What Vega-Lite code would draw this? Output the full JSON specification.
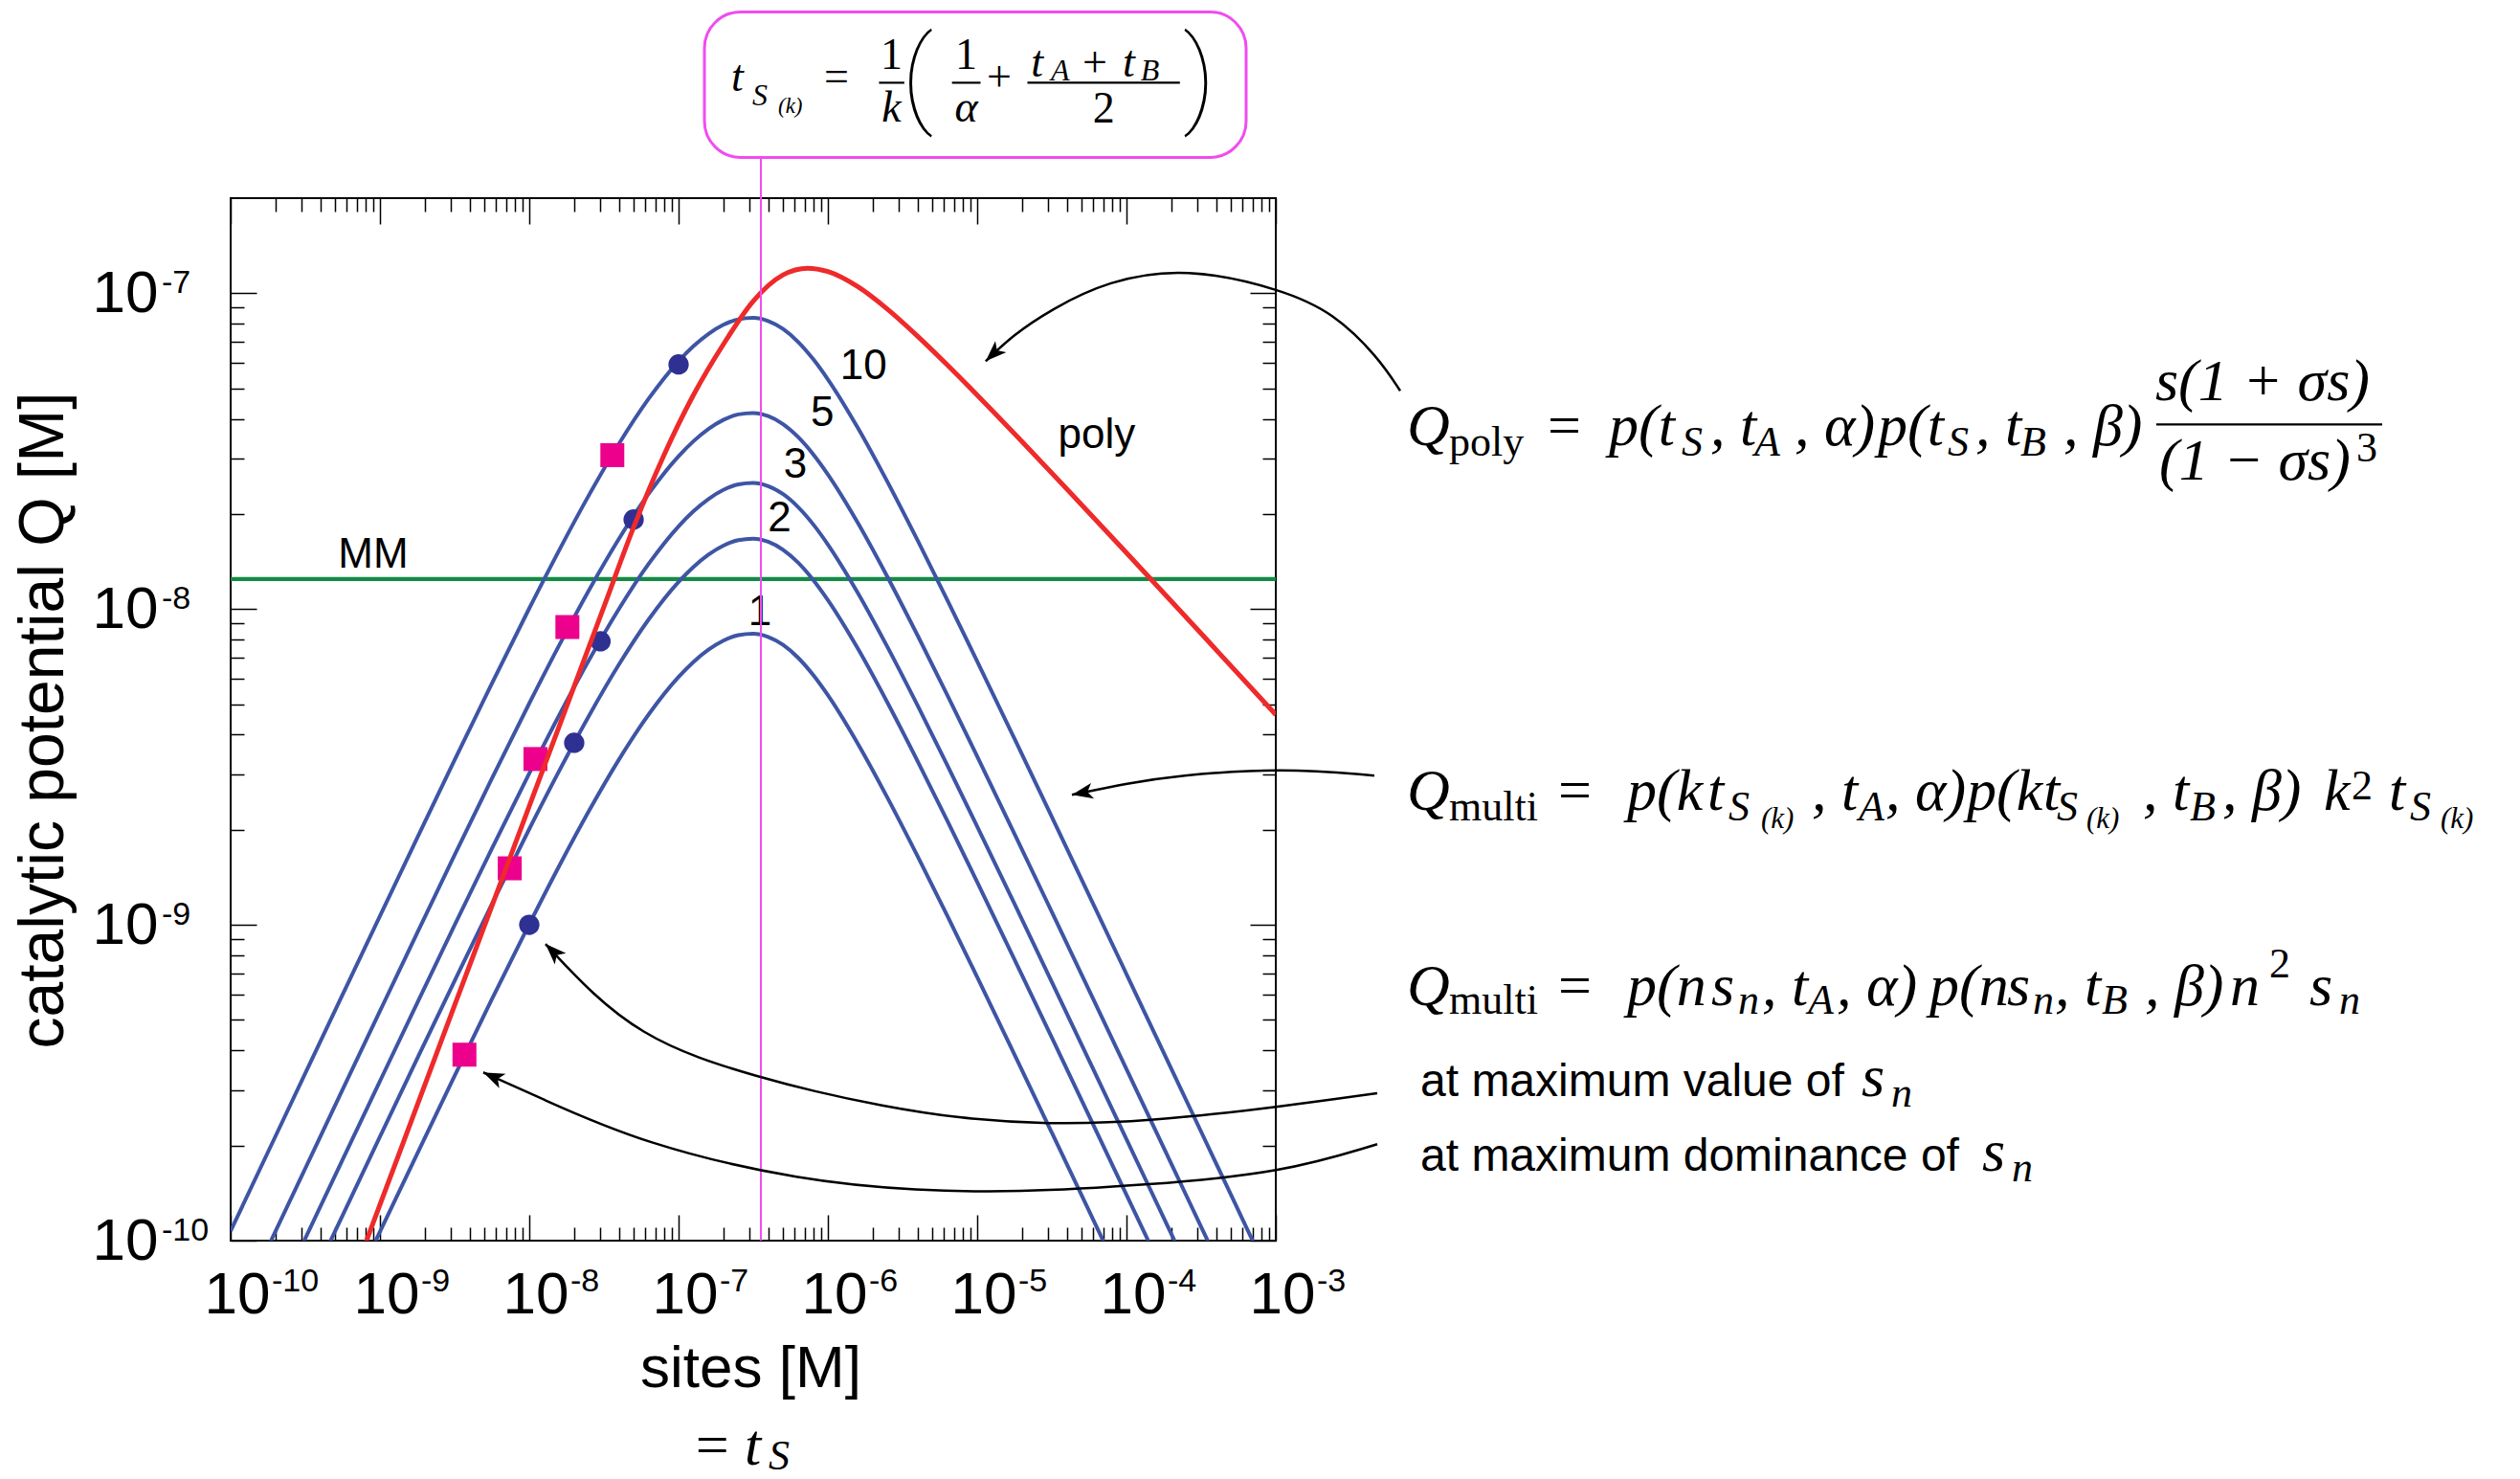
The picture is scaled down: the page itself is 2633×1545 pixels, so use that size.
{
"$schema":"https://vega.github.io/schema/vega-lite/v6.json",
"width":1092,"height":1089,
"autosize":{"type":"none"},
"padding":{"left":241,"top":207,"right":1300,"bottom":249},
"background":"white",
"config":{"view":{"stroke":"black","strokeWidth":2},"axis":{"grid":false}},
"resolve":{"axis":{"x":"independent","y":"independent"}},
"layer":[
{"data":{"values":[{"Q":1.245e-8}]},
 "mark":{"type":"rule","color":"#138B45","strokeWidth":4.3,"clip":true},
 "encoding":{"y":{"field":"Q","type":"quantitative","scale":{"type":"log","domain":[1e-10,2e-7],"nice":false},"axis":null}}},
{"data":{"values":[
{"k":1,"s":1e-10,"Q":1.073e-11},{"k":1,"s":1.778e-10,"Q":1.907e-11},{"k":1,"s":3.162e-10,"Q":3.389e-11},{"k":1,"s":5.623e-10,"Q":6.016e-11},{"k":1,"s":1e-9,"Q":1.067e-10},{"k":1,"s":1.778e-9,"Q":1.887e-10},{"k":1,"s":3.162e-9,"Q":3.325e-10},{"k":1,"s":5.623e-9,"Q":5.818e-10},{"k":1,"s":1e-8,"Q":1.005e-9},{"k":1,"s":1.585e-8,"Q":1.535e-9},{"k":1,"s":2.512e-8,"Q":2.296e-9},{"k":1,"s":3.981e-8,"Q":3.334e-9},{"k":1,"s":6.31e-8,"Q":4.638e-9},{"k":1,"s":1e-7,"Q":6.093e-9},{"k":1,"s":1.259e-7,"Q":6.8e-9},{"k":1,"s":1.585e-7,"Q":7.434e-9},{"k":1,"s":1.995e-7,"Q":7.942e-9},{"k":1,"s":2.512e-7,"Q":8.266e-9},{"k":1,"s":3.162e-7,"Q":8.353e-9},{"k":1,"s":3.981e-7,"Q":8.164e-9},{"k":1,"s":5.012e-7,"Q":7.702e-9},{"k":1,"s":6.31e-7,"Q":7.017e-9},{"k":1,"s":7.943e-7,"Q":6.197e-9},{"k":1,"s":1e-6,"Q":5.337e-9},{"k":1,"s":1.585e-6,"Q":3.752e-9},{"k":1,"s":2.512e-6,"Q":2.522e-9},{"k":1,"s":3.981e-6,"Q":1.653e-9},{"k":1,"s":6.31e-6,"Q":1.068e-9},{"k":1,"s":1e-5,"Q":6.833e-10},{"k":1,"s":1.778e-5,"Q":3.884e-10},{"k":1,"s":3.162e-5,"Q":2.197e-10},{"k":1,"s":5.623e-5,"Q":1.24e-10},{"k":1,"s":1e-4,"Q":6.983e-11},{"k":1,"s":1.778e-4,"Q":3.931e-11},{"k":1,"s":3.162e-4,"Q":2.212e-11},{"k":1,"s":5.623e-4,"Q":1.244e-11},{"k":1,"s":1e-3,"Q":6.998e-12},
{"k":2,"s":1e-10,"Q":2.146e-11},{"k":2,"s":1.778e-10,"Q":3.814e-11},{"k":2,"s":3.162e-10,"Q":6.777e-11},{"k":2,"s":5.623e-10,"Q":1.203e-10},{"k":2,"s":1e-9,"Q":2.133e-10},{"k":2,"s":1.778e-9,"Q":3.774e-10},{"k":2,"s":3.162e-9,"Q":6.65e-10},{"k":2,"s":5.623e-9,"Q":1.164e-9},{"k":2,"s":1e-8,"Q":2.011e-9},{"k":2,"s":1.585e-8,"Q":3.07e-9},{"k":2,"s":2.512e-8,"Q":4.592e-9},{"k":2,"s":3.981e-8,"Q":6.667e-9},{"k":2,"s":6.31e-8,"Q":9.276e-9},{"k":2,"s":1e-7,"Q":1.219e-8},{"k":2,"s":1.259e-7,"Q":1.36e-8},{"k":2,"s":1.585e-7,"Q":1.487e-8},{"k":2,"s":1.995e-7,"Q":1.588e-8},{"k":2,"s":2.512e-7,"Q":1.653e-8},{"k":2,"s":3.162e-7,"Q":1.671e-8},{"k":2,"s":3.981e-7,"Q":1.633e-8},{"k":2,"s":5.012e-7,"Q":1.54e-8},{"k":2,"s":6.31e-7,"Q":1.403e-8},{"k":2,"s":7.943e-7,"Q":1.239e-8},{"k":2,"s":1e-6,"Q":1.067e-8},{"k":2,"s":1.585e-6,"Q":7.504e-9},{"k":2,"s":2.512e-6,"Q":5.044e-9},{"k":2,"s":3.981e-6,"Q":3.306e-9},{"k":2,"s":6.31e-6,"Q":2.135e-9},{"k":2,"s":1e-5,"Q":1.367e-9},{"k":2,"s":1.778e-5,"Q":7.767e-10},{"k":2,"s":3.162e-5,"Q":4.394e-10},{"k":2,"s":5.623e-5,"Q":2.479e-10},{"k":2,"s":1e-4,"Q":1.397e-10},{"k":2,"s":1.778e-4,"Q":7.862e-11},{"k":2,"s":3.162e-4,"Q":4.424e-11},{"k":2,"s":5.623e-4,"Q":2.489e-11},{"k":2,"s":1e-3,"Q":1.4e-11},
{"k":3,"s":1e-10,"Q":3.219e-11},{"k":3,"s":1.778e-10,"Q":5.722e-11},{"k":3,"s":3.162e-10,"Q":1.017e-10},{"k":3,"s":5.623e-10,"Q":1.805e-10},{"k":3,"s":1e-9,"Q":3.2e-10},{"k":3,"s":1.778e-9,"Q":5.661e-10},{"k":3,"s":3.162e-9,"Q":9.976e-10},{"k":3,"s":5.623e-9,"Q":1.745e-9},{"k":3,"s":1e-8,"Q":3.016e-9},{"k":3,"s":1.585e-8,"Q":4.605e-9},{"k":3,"s":2.512e-8,"Q":6.889e-9},{"k":3,"s":3.981e-8,"Q":1e-8},{"k":3,"s":6.31e-8,"Q":1.391e-8},{"k":3,"s":1e-7,"Q":1.828e-8},{"k":3,"s":1.259e-7,"Q":2.04e-8},{"k":3,"s":1.585e-7,"Q":2.23e-8},{"k":3,"s":1.995e-7,"Q":2.383e-8},{"k":3,"s":2.512e-7,"Q":2.48e-8},{"k":3,"s":3.162e-7,"Q":2.506e-8},{"k":3,"s":3.981e-7,"Q":2.449e-8},{"k":3,"s":5.012e-7,"Q":2.311e-8},{"k":3,"s":6.31e-7,"Q":2.105e-8},{"k":3,"s":7.943e-7,"Q":1.859e-8},{"k":3,"s":1e-6,"Q":1.601e-8},{"k":3,"s":1.585e-6,"Q":1.126e-8},{"k":3,"s":2.512e-6,"Q":7.566e-9},{"k":3,"s":3.981e-6,"Q":4.959e-9},{"k":3,"s":6.31e-6,"Q":3.203e-9},{"k":3,"s":1e-5,"Q":2.05e-9},{"k":3,"s":1.778e-5,"Q":1.165e-9},{"k":3,"s":3.162e-5,"Q":6.59e-10},{"k":3,"s":5.623e-5,"Q":3.719e-10},{"k":3,"s":1e-4,"Q":2.095e-10},{"k":3,"s":1.778e-4,"Q":1.179e-10},{"k":3,"s":3.162e-4,"Q":6.636e-11},{"k":3,"s":5.623e-4,"Q":3.733e-11},{"k":3,"s":1e-3,"Q":2.1e-11},
{"k":5,"s":1e-10,"Q":5.365e-11},{"k":5,"s":1.778e-10,"Q":9.536e-11},{"k":5,"s":3.162e-10,"Q":1.694e-10},{"k":5,"s":5.623e-10,"Q":3.008e-10},{"k":5,"s":1e-9,"Q":5.333e-10},{"k":5,"s":1.778e-9,"Q":9.436e-10},{"k":5,"s":3.162e-9,"Q":1.663e-9},{"k":5,"s":5.623e-9,"Q":2.909e-9},{"k":5,"s":1e-8,"Q":5.027e-9},{"k":5,"s":1.585e-8,"Q":7.674e-9},{"k":5,"s":2.512e-8,"Q":1.148e-8},{"k":5,"s":3.981e-8,"Q":1.667e-8},{"k":5,"s":6.31e-8,"Q":2.319e-8},{"k":5,"s":1e-7,"Q":3.046e-8},{"k":5,"s":1.259e-7,"Q":3.4e-8},{"k":5,"s":1.585e-7,"Q":3.717e-8},{"k":5,"s":1.995e-7,"Q":3.971e-8},{"k":5,"s":2.512e-7,"Q":4.133e-8},{"k":5,"s":3.162e-7,"Q":4.176e-8},{"k":5,"s":3.981e-7,"Q":4.082e-8},{"k":5,"s":5.012e-7,"Q":3.851e-8},{"k":5,"s":6.31e-7,"Q":3.508e-8},{"k":5,"s":7.943e-7,"Q":3.099e-8},{"k":5,"s":1e-6,"Q":2.669e-8},{"k":5,"s":1.585e-6,"Q":1.876e-8},{"k":5,"s":2.512e-6,"Q":1.261e-8},{"k":5,"s":3.981e-6,"Q":8.265e-9},{"k":5,"s":6.31e-6,"Q":5.338e-9},{"k":5,"s":1e-5,"Q":3.417e-9},{"k":5,"s":1.778e-5,"Q":1.942e-9},{"k":5,"s":3.162e-5,"Q":1.098e-9},{"k":5,"s":5.623e-5,"Q":6.198e-10},{"k":5,"s":1e-4,"Q":3.492e-10},{"k":5,"s":1.778e-4,"Q":1.966e-10},{"k":5,"s":3.162e-4,"Q":1.106e-10},{"k":5,"s":5.623e-4,"Q":6.222e-11},{"k":5,"s":1e-3,"Q":3.499e-11},
{"k":10,"s":1e-10,"Q":1.073e-10},{"k":10,"s":1.778e-10,"Q":1.907e-10},{"k":10,"s":3.162e-10,"Q":3.389e-10},{"k":10,"s":5.623e-10,"Q":6.016e-10},{"k":10,"s":1e-9,"Q":1.067e-9},{"k":10,"s":1.778e-9,"Q":1.887e-9},{"k":10,"s":3.162e-9,"Q":3.325e-9},{"k":10,"s":5.623e-9,"Q":5.818e-9},{"k":10,"s":1e-8,"Q":1.005e-8},{"k":10,"s":1.585e-8,"Q":1.535e-8},{"k":10,"s":2.512e-8,"Q":2.296e-8},{"k":10,"s":3.981e-8,"Q":3.334e-8},{"k":10,"s":6.31e-8,"Q":4.638e-8},{"k":10,"s":1e-7,"Q":6.093e-8},{"k":10,"s":1.259e-7,"Q":6.8e-8},{"k":10,"s":1.585e-7,"Q":7.434e-8},{"k":10,"s":1.995e-7,"Q":7.942e-8},{"k":10,"s":2.512e-7,"Q":8.266e-8},{"k":10,"s":3.162e-7,"Q":8.353e-8},{"k":10,"s":3.981e-7,"Q":8.164e-8},{"k":10,"s":5.012e-7,"Q":7.702e-8},{"k":10,"s":6.31e-7,"Q":7.017e-8},{"k":10,"s":7.943e-7,"Q":6.197e-8},{"k":10,"s":1e-6,"Q":5.337e-8},{"k":10,"s":1.585e-6,"Q":3.752e-8},{"k":10,"s":2.512e-6,"Q":2.522e-8},{"k":10,"s":3.981e-6,"Q":1.653e-8},{"k":10,"s":6.31e-6,"Q":1.068e-8},{"k":10,"s":1e-5,"Q":6.833e-9},{"k":10,"s":1.778e-5,"Q":3.884e-9},{"k":10,"s":3.162e-5,"Q":2.197e-9},{"k":10,"s":5.623e-5,"Q":1.24e-9},{"k":10,"s":1e-4,"Q":6.983e-10},{"k":10,"s":1.778e-4,"Q":3.931e-10},{"k":10,"s":3.162e-4,"Q":2.212e-10},{"k":10,"s":5.623e-4,"Q":1.244e-10},{"k":10,"s":1e-3,"Q":6.998e-11}
]},
 "mark":{"type":"line","color":"#3E55A5","strokeWidth":4,"interpolate":"monotone","clip":true},
 "encoding":{
  "x":{"field":"s","type":"quantitative","scale":{"type":"log","domain":[1e-10,0.001],"nice":false},
   "axis":{"orient":"bottom","values":[1e-10,1e-9,1e-8,1e-7,1e-6,1e-5,1e-4,1e-3],"tickSize":-27,"tickWidth":1.5,"tickColor":"black","domain":false,"grid":false,
    "labelExpr":"'10'",
    "labelFont":"Liberation Sans","labelFontSize":62,"labelAlign":"left","labelBaseline":"top","labelOffset":-28,"labelPadding":53,"labelFlush":false,"labelOverlap":false,"labelBound":false,"labelColor":"black",
    "title":"sites [M]","titleFont":"Liberation Sans","titleFontSize":62,"titleFontWeight":"normal","titleColor":"black","titleBaseline":"alphabetic","titleAlign":"center","titleAngle":0,"titleX":543,"titleY":152}},
  "y":{"field":"Q","type":"quantitative","scale":{"type":"log","domain":[1e-10,2e-7],"nice":false},
   "axis":{"orient":"left","values":[1e-10,1e-9,1e-8,1e-7],"tickSize":-27,"tickWidth":1.5,"tickColor":"black","domain":false,"grid":false,
    "labelExpr":"'10'",
    "labelFont":"Liberation Sans","labelFontSize":62,"labelAlign":"left","labelBaseline":"middle","labelPadding":172,"labelFlush":false,"labelOverlap":false,"labelBound":false,"labelColor":"black",
    "title":"catalytic potential Q [M]","titleFont":"Liberation Sans","titleFontSize":66,"titleFontWeight":"normal","titleColor":"black","titleBaseline":"alphabetic","titleAlign":"center","titleAngle":-90,"titleX":-176,"titleY":545}},
  "detail":{"field":"k","type":"nominal"}}},
{"data":{"values":[{"s":1e-10,"Q":1e-10,"e":"-10"},{"s":1e-9,"Q":1e-10,"e":"-9"},{"s":1e-8,"Q":1e-10,"e":"-8"},{"s":1e-7,"Q":1e-10,"e":"-7"},{"s":1e-6,"Q":1e-10,"e":"-6"},{"s":1e-5,"Q":1e-10,"e":"-5"},{"s":1e-4,"Q":1e-10,"e":"-4"},{"s":1e-3,"Q":1e-10,"e":"-3"}]},
 "mark":{"type":"text","font":"Liberation Sans","fontSize":34,"align":"left","baseline":"alphabetic","dx":43,"dy":53,"color":"black","clip":false},
 "encoding":{"x":{"field":"s","type":"quantitative","scale":{"type":"log","domain":[1e-10,0.001],"nice":false},"axis":null},"y":{"field":"Q","type":"quantitative","scale":{"type":"log","domain":[1e-10,2e-7],"nice":false},"axis":null},"text":{"field":"e"}}},
{"data":{"values":[{"s":1e-10,"Q":1e-10,"e":"-10"},{"s":1e-10,"Q":1e-9,"e":"-9"},{"s":1e-10,"Q":1e-8,"e":"-8"},{"s":1e-10,"Q":1e-7,"e":"-7"}]},
 "mark":{"type":"text","font":"Liberation Sans","fontSize":34,"align":"left","baseline":"alphabetic","dx":-72,"dy":0,"color":"black","clip":false},
 "encoding":{"x":{"field":"s","type":"quantitative","scale":{"type":"log","domain":[1e-10,0.001],"nice":false},"axis":null},"y":{"field":"Q","type":"quantitative","scale":{"type":"log","domain":[1e-10,2e-7],"nice":false},"axis":null},"text":{"field":"e"}}},
{"data":{"values":[{"s":1e-7,"Q":5.95e-8},{"s":5e-8,"Q":1.92e-8},{"s":3e-8,"Q":7.9e-9},{"s":2e-8,"Q":3.77e-9},{"s":1e-8,"Q":1e-9}]},
 "mark":{"type":"point","shape":"circle","filled":true,"size":452,"color":"#2E3192","opacity":1,"clip":false},
 "encoding":{
  "x":{"field":"s","type":"quantitative","scale":{"type":"log","domain":[1e-10,0.001],"nice":false},
   "axis":{"orient":"top","values":[1e-10,1e-9,1e-8,1e-7,1e-6,1e-5,1e-4,1e-3],"tickSize":-27,"tickWidth":1.5,"tickColor":"black","domain":false,"grid":false,"labels":false,"title":null}},
  "y":{"field":"Q","type":"quantitative","scale":{"type":"log","domain":[1e-10,2e-7],"nice":false},
   "axis":{"orient":"right","values":[1e-10,1e-9,1e-8,1e-7],"tickSize":-27,"tickWidth":1.5,"tickColor":"black","domain":false,"grid":false,"labels":false,"title":null}}}},
{"data":{"values":[{"s":3.6e-8,"Q":3.07e-8},{"s":1.8e-8,"Q":8.77e-9},{"s":1.1e-8,"Q":3.35e-9},{"s":7.4e-9,"Q":1.51e-9},{"s":3.68e-9,"Q":3.88e-10}]},
 "mark":{"type":"point","shape":"square","filled":true,"size":625,"color":"#EC008C","opacity":1,"clip":false},
 "encoding":{
  "x":{"field":"s","type":"quantitative","scale":{"type":"log","domain":[1e-10,0.001],"nice":false},
   "axis":{"orient":"top","values":[2e-10,3e-10,4e-10,5e-10,6e-10,7e-10,8e-10,9e-10,2e-9,3e-9,4e-9,5e-9,6e-9,7e-9,8e-9,9e-9,2e-8,3e-8,4e-8,5e-8,6e-8,7e-8,8e-8,9e-8,2e-7,3e-7,4e-7,5e-7,6e-7,7e-7,8e-7,9e-7,2e-6,3e-6,4e-6,5e-6,6e-6,7e-6,8e-6,9e-6,2e-5,3e-5,4e-5,5e-5,6e-5,7e-5,8e-5,9e-5,2e-4,3e-4,4e-4,5e-4,6e-4,7e-4,8e-4,9e-4],"tickSize":-14,"tickWidth":1.5,"tickColor":"black","domain":false,"grid":false,"labels":false,"title":null}},
  "y":{"field":"Q","type":"quantitative","scale":{"type":"log","domain":[1e-10,2e-7],"nice":false},
   "axis":{"orient":"right","values":[2e-10,3e-10,4e-10,5e-10,6e-10,7e-10,8e-10,9e-10,2e-9,3e-9,4e-9,5e-9,6e-9,7e-9,8e-9,9e-9,2e-8,3e-8,4e-8,5e-8,6e-8,7e-8,8e-8,9e-8],"tickSize":-14,"tickWidth":1.5,"tickColor":"black","domain":false,"grid":false,"labels":false,"title":null}}}},
{"data":{"values":[
{"s":5.623e-10,"Q":6.28e-11},{"s":1e-9,"Q":1.3e-10},{"s":1.778e-9,"Q":2.685e-10},{"s":3.162e-9,"Q":5.56e-10},{"s":5.623e-9,"Q":1.148e-9},{"s":1e-8,"Q":2.377e-9},{"s":1.778e-8,"Q":4.909e-9},{"s":3.162e-8,"Q":1.016e-8},{"s":5.012e-8,"Q":1.82e-8},{"s":7.943e-8,"Q":3.055e-8},{"s":1.259e-7,"Q":4.764e-8},{"s":1.995e-7,"Q":6.887e-8},{"s":3.162e-7,"Q":9.44e-8},{"s":5.012e-7,"Q":1.143e-7},{"s":7.31e-7,"Q":1.2e-7},{"s":1e-6,"Q":1.171e-7},{"s":1.585e-6,"Q":1.049e-7},{"s":2.512e-6,"Q":8.892e-8},{"s":3.981e-6,"Q":7.316e-8},{"s":6.31e-6,"Q":5.929e-8},{"s":1e-5,"Q":4.76e-8},{"s":1.995e-5,"Q":3.392e-8},{"s":3.981e-5,"Q":2.401e-8},{"s":1e-4,"Q":1.506e-8},{"s":3.162e-4,"Q":8.366e-9},{"s":1e-3,"Q":4.631e-9}
]},
 "mark":{"type":"line","color":"#EE2A2A","strokeWidth":5,"interpolate":"monotone","clip":true},
 "encoding":{
  "x":{"field":"s","type":"quantitative","scale":{"type":"log","domain":[1e-10,0.001],"nice":false},
   "axis":{"orient":"bottom","values":[2e-10,3e-10,4e-10,5e-10,6e-10,7e-10,8e-10,9e-10,2e-9,3e-9,4e-9,5e-9,6e-9,7e-9,8e-9,9e-9,2e-8,3e-8,4e-8,5e-8,6e-8,7e-8,8e-8,9e-8,2e-7,3e-7,4e-7,5e-7,6e-7,7e-7,8e-7,9e-7,2e-6,3e-6,4e-6,5e-6,6e-6,7e-6,8e-6,9e-6,2e-5,3e-5,4e-5,5e-5,6e-5,7e-5,8e-5,9e-5,2e-4,3e-4,4e-4,5e-4,6e-4,7e-4,8e-4,9e-4],"tickSize":-14,"tickWidth":1.5,"tickColor":"black","domain":false,"grid":false,"labels":false,"title":null}},
  "y":{"field":"Q","type":"quantitative","scale":{"type":"log","domain":[1e-10,2e-7],"nice":false},
   "axis":{"orient":"left","values":[2e-10,3e-10,4e-10,5e-10,6e-10,7e-10,8e-10,9e-10,2e-9,3e-9,4e-9,5e-9,6e-9,7e-9,8e-9,9e-9,2e-8,3e-8,4e-8,5e-8,6e-8,7e-8,8e-8,9e-8],"tickSize":-14,"tickWidth":1.5,"tickColor":"black","domain":false,"grid":false,"labels":false,"title":null}}}},
{"data":{"values":[{"x":1.73e-6,"y":5.33e-8,"t":"10"},{"x":9.2e-7,"y":3.79e-8,"t":"5"},{"x":6.05e-7,"y":2.6e-8,"t":"3"},{"x":4.74e-7,"y":1.76e-8,"t":"2"},{"x":3.51e-7,"y":8.87e-9,"t":"1"},{"x":6.32e-5,"y":3.23e-8,"t":"poly"},{"x":9.02e-10,"y":1.35e-8,"t":"MM"}]},
 "mark":{"type":"text","font":"Liberation Sans","fontSize":44,"align":"center","baseline":"alphabetic","color":"black","clip":false},
 "encoding":{"x":{"field":"x","type":"quantitative","scale":{"type":"log","domain":[1e-10,0.001],"nice":false},"axis":null},"y":{"field":"y","type":"quantitative","scale":{"type":"log","domain":[1e-10,2e-7],"nice":false},"axis":null},"text":{"field":"t"}}},
{"data":{"values":[{"s":3.56e-7,"Q1":2.69e-7,"Q2":1e-10}]},
 "mark":{"type":"rule","color":"#F04CF0","strokeWidth":2,"clip":false},
 "encoding":{"x":{"field":"s","type":"quantitative","scale":{"type":"log","domain":[1e-10,0.001],"nice":false},"axis":null},"y":{"field":"Q1","type":"quantitative","scale":{"type":"log","domain":[1e-10,2e-7],"nice":false},"axis":null},"y2":{"field":"Q2"}}},
{"data":{"values":[{"x1":1.49e-7,"x2":6.33e-4,"y1":7.78e-7,"y2":2.69e-7}]},
 "mark":{"type":"rect","fillOpacity":0,"fill":"white","stroke":"#F04CF0","strokeWidth":3,"cornerRadius":38,"clip":false},
 "encoding":{"x":{"field":"x1","type":"quantitative","scale":{"type":"log","domain":[1e-10,0.001],"nice":false},"axis":null},"x2":{"field":"x2"},"y":{"field":"y1","type":"quantitative","scale":{"type":"log","domain":[1e-10,2e-7],"nice":false},"axis":null},"y2":{"field":"y2"}}},
{"data":{"values":[
{"id":"a1","x":6.81e-3,"y":4.91e-8},{"id":"a1","x":4.85e-3,"y":6.27e-8},{"id":"a1","x":2.46e-3,"y":8.64e-8},{"id":"a1","x":1.109e-3,"y":1.028e-7},{"id":"a1","x":2.5e-4,"y":1.21e-7},{"id":"a1","x":7.44e-5,"y":1.095e-7},{"id":"a1","x":3.12e-5,"y":8.88e-8},{"id":"a1","x":1.73e-5,"y":7.36e-8},{"id":"a1","x":1.14e-5,"y":6.09e-8},
{"id":"a2","x":4.57e-3,"y":2.97e-9},{"id":"a2","x":1.109e-3,"y":3.14e-9},{"id":"a2","x":2.09e-4,"y":2.97e-9},{"id":"a2","x":1.045e-4,"y":2.81e-9},{"id":"a2","x":4.31e-5,"y":2.58e-9},
{"id":"a3","x":4.78e-3,"y":2.93e-10},{"id":"a3","x":1.109e-3,"y":2.66e-10},{"id":"a3","x":1.404e-4,"y":2.38e-10},{"id":"a3","x":2.89e-5,"y":2.33e-10},{"id":"a3","x":7.33e-6,"y":2.44e-10},{"id":"a3","x":2.252e-6,"y":2.675e-10},{"id":"a3","x":8.01e-7,"y":2.97e-10},{"id":"a3","x":3.305e-7,"y":3.32e-10},{"id":"a3","x":1.363e-7,"y":3.77e-10},{"id":"a3","x":5.79e-8,"y":4.51e-10},{"id":"a3","x":2.689e-8,"y":5.97e-10},{"id":"a3","x":1.285e-8,"y":8.7e-10},
{"id":"a4","x":4.78e-3,"y":2.02e-10},{"id":"a4","x":1.109e-3,"y":1.64e-10},{"id":"a4","x":1.4e-4,"y":1.5e-10},{"id":"a4","x":1.778e-5,"y":1.42e-10},{"id":"a4","x":4.06e-6,"y":1.44e-10},{"id":"a4","x":6.92e-7,"y":1.54e-10},{"id":"a4","x":5.79e-8,"y":2.02e-10},{"id":"a4","x":1.109e-8,"y":2.87e-10},{"id":"a4","x":4.92e-9,"y":3.41e-10}
]},
 "mark":{"type":"line","color":"black","strokeWidth":2.5,"interpolate":"basis","clip":false},
 "encoding":{"x":{"field":"x","type":"quantitative","scale":{"type":"log","domain":[1e-10,0.001],"nice":false},"axis":null},"y":{"field":"y","type":"quantitative","scale":{"type":"log","domain":[1e-10,2e-7],"nice":false},"axis":null},"detail":{"field":"id","type":"nominal"}}},
{"data":{"values":[{"x":1.14e-5,"y":6.09e-8}]},
 "mark":{"type":"point","shape":"M0,0L-2,-0.75L-1.5,0L-2,0.75Z","filled":true,"size":484,"color":"black","opacity":1,"angle":136,"clip":false},
 "encoding":{"x":{"field":"x","type":"quantitative","scale":{"type":"log","domain":[1e-10,0.001],"nice":false},"axis":null},"y":{"field":"y","type":"quantitative","scale":{"type":"log","domain":[1e-10,2e-7],"nice":false},"axis":null}}},
{"data":{"values":[{"x":4.31e-5,"y":2.58e-9}]},
 "mark":{"type":"point","shape":"M0,0L-2,-0.75L-1.5,0L-2,0.75Z","filled":true,"size":484,"color":"black","opacity":1,"angle":169,"clip":false},
 "encoding":{"x":{"field":"x","type":"quantitative","scale":{"type":"log","domain":[1e-10,0.001],"nice":false},"axis":null},"y":{"field":"y","type":"quantitative","scale":{"type":"log","domain":[1e-10,2e-7],"nice":false},"axis":null}}},
{"data":{"values":[{"x":1.285e-8,"y":8.7e-10}]},
 "mark":{"type":"point","shape":"M0,0L-2,-0.75L-1.5,0L-2,0.75Z","filled":true,"size":484,"color":"black","opacity":1,"angle":225,"clip":false},
 "encoding":{"x":{"field":"x","type":"quantitative","scale":{"type":"log","domain":[1e-10,0.001],"nice":false},"axis":null},"y":{"field":"y","type":"quantitative","scale":{"type":"log","domain":[1e-10,2e-7],"nice":false},"axis":null}}},
{"data":{"values":[{"x":4.92e-9,"y":3.41e-10}]},
 "mark":{"type":"point","shape":"M0,0L-2,-0.75L-1.5,0L-2,0.75Z","filled":true,"size":484,"color":"black","opacity":1,"angle":204,"clip":false},
 "encoding":{"x":{"field":"x","type":"quantitative","scale":{"type":"log","domain":[1e-10,0.001],"nice":false},"axis":null},"y":{"field":"y","type":"quantitative","scale":{"type":"log","domain":[1e-10,2e-7],"nice":false},"axis":null}}},
{"data":{"values":[{"x1":2.2e-6,"x2":3.25e-6,"y":4.64e-7},{"x1":6.78e-6,"x2":1.053e-5,"y":4.64e-7},{"x1":2.17e-5,"x2":2.28e-4,"y":4.64e-7},{"x1":789.5,"x2":25730,"y":3.84e-8}]},
 "mark":{"type":"rule","color":"black","strokeWidth":2.2,"clip":false},
 "encoding":{"x":{"field":"x1","type":"quantitative","scale":{"type":"log","domain":[1e-10,0.001],"nice":false},"axis":null},"x2":{"field":"x2"},"y":{"field":"y","type":"quantitative","scale":{"type":"log","domain":[1e-10,2e-7],"nice":false},"axis":null}}},
{"data":{"values":[
{"x":7.55e-3,"y":3.3e-8,"t":"Q"},{"x":0.1701,"y":3.3e-8,"t":"p(t"},{"x":0.8135,"y":3.3e-8,"t":", t"},{"x":2.981,"y":3.3e-8,"t":", α)"},{"x":10.77,"y":3.3e-8,"t":"p(t"},{"x":48.52,"y":3.3e-8,"t":", t"},{"x":188.6,"y":3.3e-8,"t":", β)"},
{"x":778,"y":4.58e-8,"t":"s(1 + σs)"},{"x":825.4,"y":2.57e-8,"t":"(1 − σs)"},
{"x":7.55e-3,"y":2.31e-9,"t":"Q"},{"x":0.2252,"y":2.31e-9,"t":"p(k"},{"x":0.778,"y":2.31e-9,"t":"t"},{"x":3.889,"y":2.31e-9,"t":", t"},{"x":12.11,"y":2.31e-9,"t":", α)"},{"x":42.48,"y":2.31e-9,"t":"p(k"},{"x":138.4,"y":2.31e-9,"t":"t"},{"x":642.2,"y":2.31e-9,"t":", t"},{"x":2186,"y":2.31e-9,"t":", β)"},{"x":10450,"y":2.31e-9,"t":"k"},{"x":28520,"y":2.31e-9,"t":"t"},
{"x":7.55e-3,"y":5.57e-10,"t":"Q"},{"x":0.2252,"y":5.57e-10,"t":"p(n"},{"x":0.8254,"y":5.57e-10,"t":"s"},{"x":1.805,"y":5.57e-10,"t":", t"},{"x":5.706,"y":5.57e-10,"t":", α)"},{"x":23.89,"y":5.57e-10,"t":"p(n"},{"x":78.95,"y":5.57e-10,"t":"s"},{"x":165.2,"y":5.57e-10,"t":", t"},{"x":661.3,"y":5.57e-10,"t":", β)"},{"x":2460,"y":5.57e-10,"t":"n"},{"x":8378,"y":5.57e-10,"t":"s"},
{"x":8.378,"y":2.87e-10,"t":"s"},{"x":53.8,"y":1.66e-10,"t":"s"},
{"x":2.77e-7,"y":1.954e-11,"t":"t"}
]},
 "mark":{"type":"text","font":"Liberation Serif","fontStyle":"italic","fontSize":62,"align":"left","baseline":"alphabetic","color":"black","clip":false},
 "encoding":{"x":{"field":"x","type":"quantitative","scale":{"type":"log","domain":[1e-10,0.001],"nice":false},"axis":null},"y":{"field":"y","type":"quantitative","scale":{"type":"log","domain":[1e-10,2e-7],"nice":false},"axis":null},"text":{"field":"t"}}},
{"data":{"values":[{"x":6.61e-2,"y":3.3e-8,"t":"="},{"x":7.78e-2,"y":2.31e-9,"t":"="},{"x":7.78e-2,"y":5.57e-10,"t":"="},{"x":1.3e-7,"y":1.954e-11,"t":"="}]},
 "mark":{"type":"text","font":"Liberation Serif","fontSize":62,"align":"left","baseline":"alphabetic","color":"black","clip":false},
 "encoding":{"x":{"field":"x","type":"quantitative","scale":{"type":"log","domain":[1e-10,0.001],"nice":false},"axis":null},"y":{"field":"y","type":"quantitative","scale":{"type":"log","domain":[1e-10,2e-7],"nice":false},"axis":null},"text":{"field":"t"}}},
{"data":{"values":[
{"x":0.5223,"y":3.05e-8,"t":"S"},{"x":1.604,"y":3.05e-8,"t":"A"},{"x":31.62,"y":3.05e-8,"t":"S"},{"x":97.1,"y":3.05e-8,"t":"B"},
{"x":1.077,"y":2.14e-9,"t":"S"},{"x":8.013,"y":2.14e-9,"t":"A"},{"x":170.1,"y":2.14e-9,"t":"S"},{"x":1324,"y":2.14e-9,"t":"B"},{"x":39460,"y":2.14e-9,"t":"S"},
{"x":1.248,"y":5.23e-10,"t":"n"},{"x":3.665,"y":5.23e-10,"t":"A"},{"x":117.6,"y":5.23e-10,"t":"n"},{"x":340.5,"y":5.23e-10,"t":"B"},{"x":13240,"y":5.23e-10,"t":"n"},
{"x":13.24,"y":2.66e-10,"t":"n"},{"x":85.03,"y":1.54e-10,"t":"n"},
{"x":4.01e-7,"y":1.888e-11,"t":"S"}
]},
 "mark":{"type":"text","font":"Liberation Serif","fontStyle":"italic","fontSize":44,"align":"left","baseline":"alphabetic","color":"black","clip":false},
 "encoding":{"x":{"field":"x","type":"quantitative","scale":{"type":"log","domain":[1e-10,0.001],"nice":false},"axis":null},"y":{"field":"y","type":"quantitative","scale":{"type":"log","domain":[1e-10,2e-7],"nice":false},"axis":null},"text":{"field":"t"}}},
{"data":{"values":[{"x":1.446e-2,"y":3.05e-8,"t":"poly"},{"x":17270,"y":2.93e-8,"t":"3"},{"x":1.446e-2,"y":2.14e-9,"t":"multi"},{"x":16040,"y":2.49e-9,"t":"2"},{"x":1.446e-2,"y":5.23e-10,"t":"multi"},{"x":4506,"y":6.81e-10,"t":"2"}]},
 "mark":{"type":"text","font":"Liberation Serif","fontSize":44,"align":"left","baseline":"alphabetic","color":"black","clip":false},
 "encoding":{"x":{"field":"x","type":"quantitative","scale":{"type":"log","domain":[1e-10,0.001],"nice":false},"axis":null},"y":{"field":"y","type":"quantitative","scale":{"type":"log","domain":[1e-10,2e-7],"nice":false},"axis":null},"text":{"field":"t"}}},
{"data":{"values":[{"x":1.778,"y":2.02e-9,"t":"(k)"},{"x":268.9,"y":2.02e-9,"t":"(k)"},{"x":63280,"y":2.02e-9,"t":"(k)"}]},
 "mark":{"type":"text","font":"Liberation Serif","fontStyle":"italic","fontSize":31,"align":"left","baseline":"alphabetic","color":"black","clip":false},
 "encoding":{"x":{"field":"x","type":"quantitative","scale":{"type":"log","domain":[1e-10,0.001],"nice":false},"axis":null},"y":{"field":"y","type":"quantitative","scale":{"type":"log","domain":[1e-10,2e-7],"nice":false},"axis":null},"text":{"field":"t"}}},
{"data":{"values":[{"x":2.25e-7,"y":4.36e-7,"t":"t"},{"x":2.29e-5,"y":4.84e-7,"t":"t"},{"x":9.43e-5,"y":4.84e-7,"t":"t"}]},
 "mark":{"type":"text","font":"Liberation Serif","fontStyle":"italic","fontSize":46,"align":"left","baseline":"alphabetic","color":"black","clip":false},
 "encoding":{"x":{"field":"x","type":"quantitative","scale":{"type":"log","domain":[1e-10,0.001],"nice":false},"axis":null},"y":{"field":"y","type":"quantitative","scale":{"type":"log","domain":[1e-10,2e-7],"nice":false},"axis":null},"text":{"field":"t"}}},
{"data":{"values":[{"x":2.67e-6,"y":3.49e-7,"t":"k"},{"x":8.45e-6,"y":3.49e-7,"t":"α"}]},
 "mark":{"type":"text","font":"Liberation Serif","fontStyle":"italic","fontSize":46,"align":"center","baseline":"alphabetic","color":"black","clip":false},
 "encoding":{"x":{"field":"x","type":"quantitative","scale":{"type":"log","domain":[1e-10,0.001],"nice":false},"axis":null},"y":{"field":"y","type":"quantitative","scale":{"type":"log","domain":[1e-10,2e-7],"nice":false},"axis":null},"text":{"field":"t"}}},
{"data":{"values":[{"x":9.43e-7,"y":4.36e-7,"t":"="},{"x":1.16e-5,"y":4.36e-7,"t":"+"},{"x":5.07e-5,"y":4.84e-7,"t":"+"}]},
 "mark":{"type":"text","font":"Liberation Serif","fontSize":46,"align":"left","baseline":"alphabetic","color":"black","clip":false},
 "encoding":{"x":{"field":"x","type":"quantitative","scale":{"type":"log","domain":[1e-10,0.001],"nice":false},"axis":null},"y":{"field":"y","type":"quantitative","scale":{"type":"log","domain":[1e-10,2e-7],"nice":false},"axis":null},"text":{"field":"t"}}},
{"data":{"values":[{"x":2.67e-6,"y":5.12e-7,"t":"1"},{"x":8.45e-6,"y":5.12e-7,"t":"1"},{"x":7.03e-5,"y":3.46e-7,"t":"2"}]},
 "mark":{"type":"text","font":"Liberation Serif","fontSize":46,"align":"center","baseline":"alphabetic","color":"black","clip":false},
 "encoding":{"x":{"field":"x","type":"quantitative","scale":{"type":"log","domain":[1e-10,0.001],"nice":false},"axis":null},"y":{"field":"y","type":"quantitative","scale":{"type":"log","domain":[1e-10,2e-7],"nice":false},"axis":null},"text":{"field":"t"}}},
{"data":{"values":[{"x":3.12e-7,"y":3.93e-7,"t":"S"},{"x":3.12e-5,"y":4.71e-7,"t":"A"},{"x":1.244e-4,"y":4.71e-7,"t":"B"}]},
 "mark":{"type":"text","font":"Liberation Serif","fontStyle":"italic","fontSize":32,"align":"left","baseline":"alphabetic","color":"black","clip":false},
 "encoding":{"x":{"field":"x","type":"quantitative","scale":{"type":"log","domain":[1e-10,0.001],"nice":false},"axis":null},"y":{"field":"y","type":"quantitative","scale":{"type":"log","domain":[1e-10,2e-7],"nice":false},"axis":null},"text":{"field":"t"}}},
{"data":{"values":[{"x":4.64e-7,"y":3.71e-7,"t":"(k)"}]},
 "mark":{"type":"text","font":"Liberation Serif","fontStyle":"italic","fontSize":23,"align":"left","baseline":"alphabetic","color":"black","clip":false},
 "encoding":{"x":{"field":"x","type":"quantitative","scale":{"type":"log","domain":[1e-10,0.001],"nice":false},"axis":null},"y":{"field":"y","type":"quantitative","scale":{"type":"log","domain":[1e-10,2e-7],"nice":false},"axis":null},"text":{"field":"t"}}},
{"data":{"values":[{"x":3.12e-6,"y":3.71e-7,"t":"("},{"x":2.39e-4,"y":3.71e-7,"t":")"}]},
 "mark":{"type":"text","font":"Roboto","fontSize":112,"fontWeight":100,"align":"left","baseline":"alphabetic","color":"black","clip":false},
 "encoding":{"x":{"field":"x","type":"quantitative","scale":{"type":"log","domain":[1e-10,0.001],"nice":false},"axis":null},"y":{"field":"y","type":"quantitative","scale":{"type":"log","domain":[1e-10,2e-7],"nice":false},"axis":null},"text":{"field":"t"}}},
{"data":{"values":[{"x":9.29e-3,"y":2.87e-10,"t":"at maximum value of"},{"x":9.29e-3,"y":1.66e-10,"t":"at maximum dominance of"}]},
 "mark":{"type":"text","font":"Liberation Sans","fontSize":48,"align":"left","baseline":"alphabetic","color":"black","clip":false},
 "encoding":{"x":{"field":"x","type":"quantitative","scale":{"type":"log","domain":[1e-10,0.001],"nice":false},"axis":null},"y":{"field":"y","type":"quantitative","scale":{"type":"log","domain":[1e-10,2e-7],"nice":false},"axis":null},"text":{"field":"t"}}}
]
}
